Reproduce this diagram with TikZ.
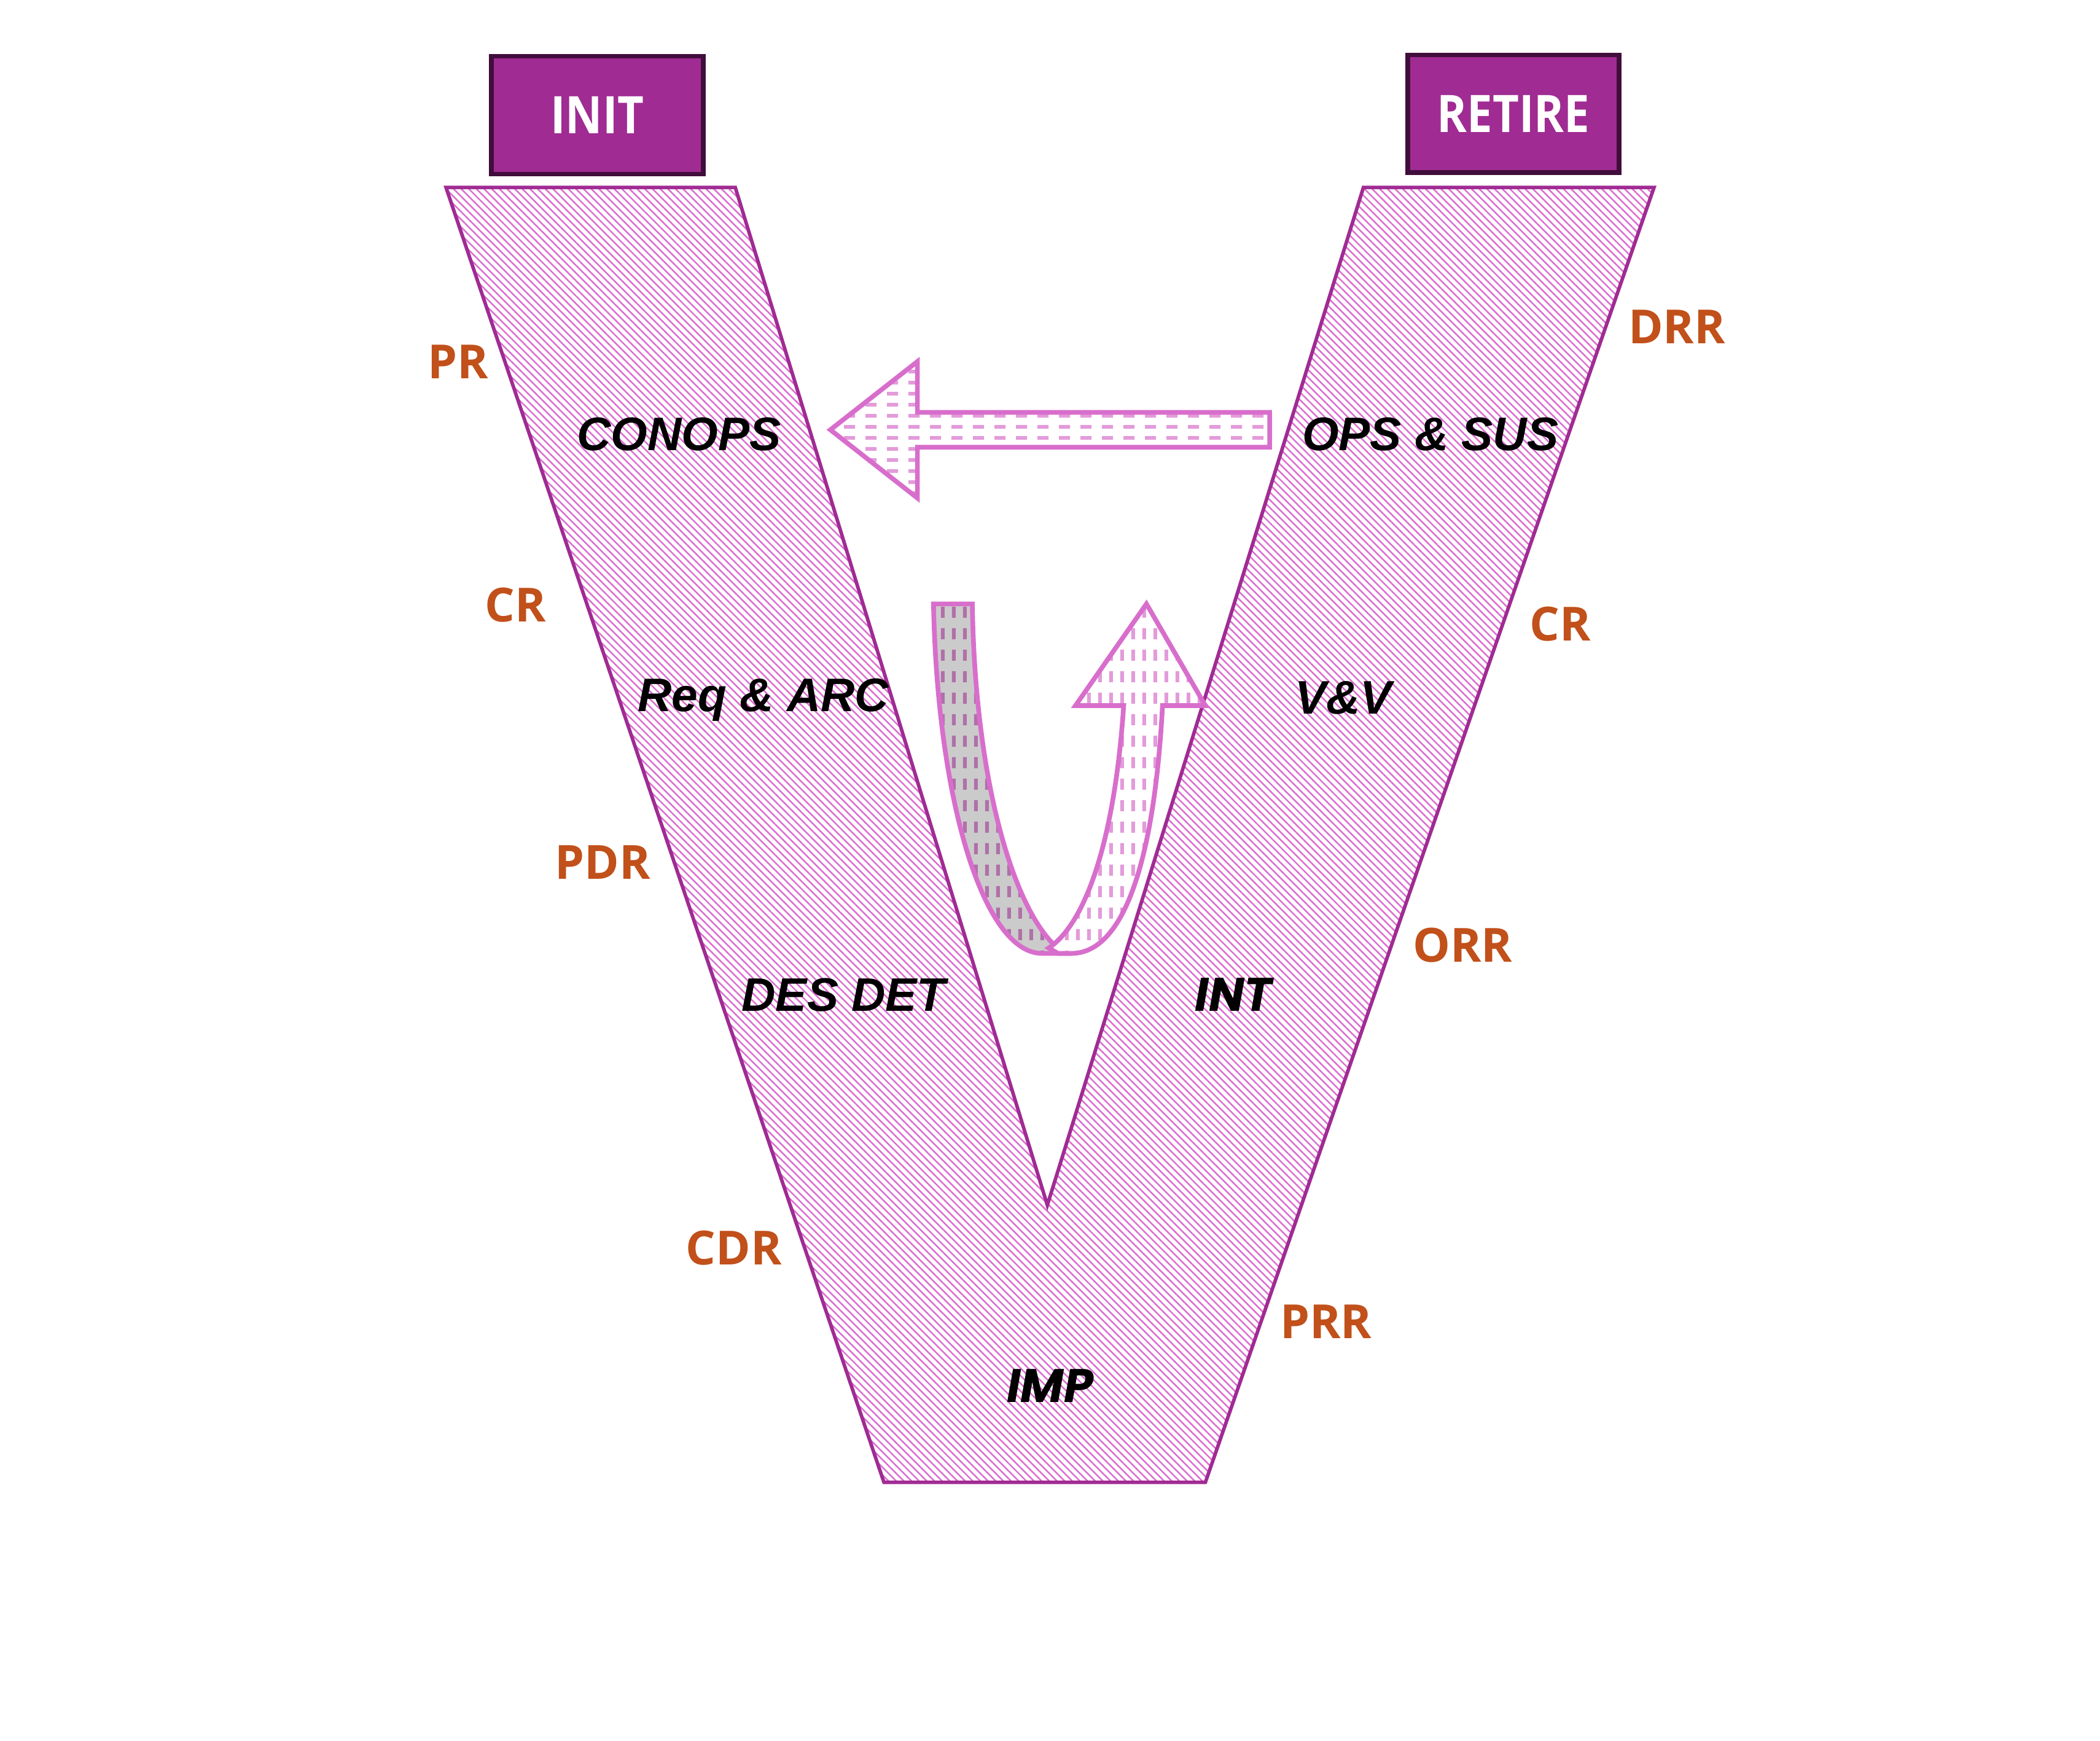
\documentclass[tikz,border=0pt]{standalone}
\usepackage{fontspec}
\usepackage{tikz}
\usepackage{xcolor}
\usetikzlibrary{patterns.meta}
\setmainfont{Liberation Sans}
\newfontfamily\gatefont[FakeStretch=0.88]{Open Sans}
\newfontfamily\revfont{Open Sans}
\newfontfamily\geofont{Poppins}
\definecolor{vplum}{HTML}{A02B93}
\definecolor{vdark}{HTML}{410E3B}
\definecolor{vhatch}{HTML}{DB6BD0}
\definecolor{arrpink}{HTML}{D86ECC}
\definecolor{dashpink}{HTML}{E39BDA}
\definecolor{dashplum}{HTML}{B070A8}
\definecolor{ugray}{HTML}{CBCBCB}
\definecolor{revorange}{HTML}{C1501A}
\tikzdeclarepattern{name=hdash,type=uncolored,
  bounding box={(0pt,0pt) and (4.6pt,2.4pt)},tile size={(4.6pt,2.4pt)},
  code={\draw[line width=0.8pt] (0pt,1.2pt) -- (2.4pt,1.2pt);}}
\tikzdeclarepattern{name=vdash,type=uncolored,
  bounding box={(0pt,0pt) and (2.4pt,4.6pt)},tile size={(2.4pt,4.6pt)},
  code={\draw[line width=0.8pt] (1.2pt,0pt) -- (1.2pt,2.4pt);}}
\tikzset{
  gate/.style={draw=vdark,fill=vplum,line width=1pt,minimum width=1.58cm,
               minimum height=0.88cm,inner sep=0pt,text=white,
               font=\gatefont\bfseries\fontsize{11}{13}\selectfont},
  review/.style={text=revorange,inner sep=1pt,
                 font=\revfont\bfseries\fontsize{10}{12}\selectfont},
  stage/.style={inner sep=1pt,text depth=0pt,
                font=\bfseries\itshape\fontsize{10}{12}\selectfont},
  stagegeo/.style={stage,font=\geofont\bfseries\itshape\fontsize{10}{12}\selectfont},
  vbody/.style={draw=vplum,line width=0.75pt,line join=miter,
                pattern={Lines[angle=-45,distance=1.15pt,line width=0.32pt]},
                pattern color=vhatch},
  backarr/.style={draw=arrpink,line width=1pt,line join=miter,
                  preaction={fill=white},
                  preaction={pattern=hdash,pattern color=dashpink}},
  ugrayband/.style={draw=arrpink,line width=1pt,
                    preaction={fill=ugray},
                    preaction={pattern=vdash,pattern color=dashplum}},
  uwhiteband/.style={draw=arrpink,line width=1pt,line join=miter,
                     preaction={fill=white},
                     preaction={pattern=vdash,pattern color=dashpink}}
}
\begin{document}
\begin{tikzpicture}[x=1cm,y=1cm]
  \useasboundingbox (0,0) rectangle (15.68,13.00);
  % the V
  \path[vbody] (3.33,11.60) -- (5.49,11.60) -- (7.82,4.00) -- (10.18,11.60)
    -- (12.35,11.60) -- (9.00,1.93) -- (6.60,1.93) -- cycle;
  \node[gate] (init) at (4.46,12.14) {INIT};
  \node[gate] (retire) at (11.30,12.15) {RETIRE};
  % feedback arrows
  \path[backarr] (6.20,9.79) -- (6.85,10.30) -- (6.85,9.92) -- (9.48,9.92)
    -- (9.48,9.66) -- (6.85,9.66) -- (6.85,9.28) -- cycle;
  \path[ugrayband] (6.97,8.49) -- (7.26,8.49)
    .. controls (7.28,7.10) and (7.60,6.10) .. (7.95,5.88) -- (7.78,5.88)
    .. controls (7.35,5.88) and (7.00,7.00) .. (6.97,8.49) -- cycle;
  \path[uwhiteband] (7.83,5.92) .. controls (8.10,6.10) and (8.32,6.70) .. (8.39,7.73)
    -- (8.03,7.73) -- (8.56,8.49) -- (9.00,7.73) -- (8.68,7.73)
    .. controls (8.62,6.60) and (8.40,5.88) .. (8.00,5.88) -- (7.90,5.88) -- cycle;
  % stages
  \foreach \nm/\xx/\yy/\txt in {conops/5.07/9.76/CONOPS,reqarc/5.70/7.81/Req \& ARC,
      desdet/6.30/5.57/DES DET,opssus/10.68/9.76/OPS \& SUS,vv/10.03/7.79/V\&V}
    \node[stage] (\nm) at (\xx,\yy) {\txt};
  \node[stagegeo] (imp) at (7.84,2.65) {IMP};
  \node[stagegeo] (int) at (9.21,5.57) {INT};
  % reviews
  \foreach \nm/\xx/\yy/\txt in {pr/3.42/10.30/PR,crleft/3.85/8.48/CR,pdr/4.50/6.56/PDR,
      cdr/5.48/3.68/CDR,drr/12.52/10.56/DRR,crright/11.65/8.34/CR,
      orr/10.92/5.94/ORR,prr/9.90/3.13/PRR}
    \node[review] (\nm) at (\xx,\yy) {\txt};
\end{tikzpicture}
\end{document}
